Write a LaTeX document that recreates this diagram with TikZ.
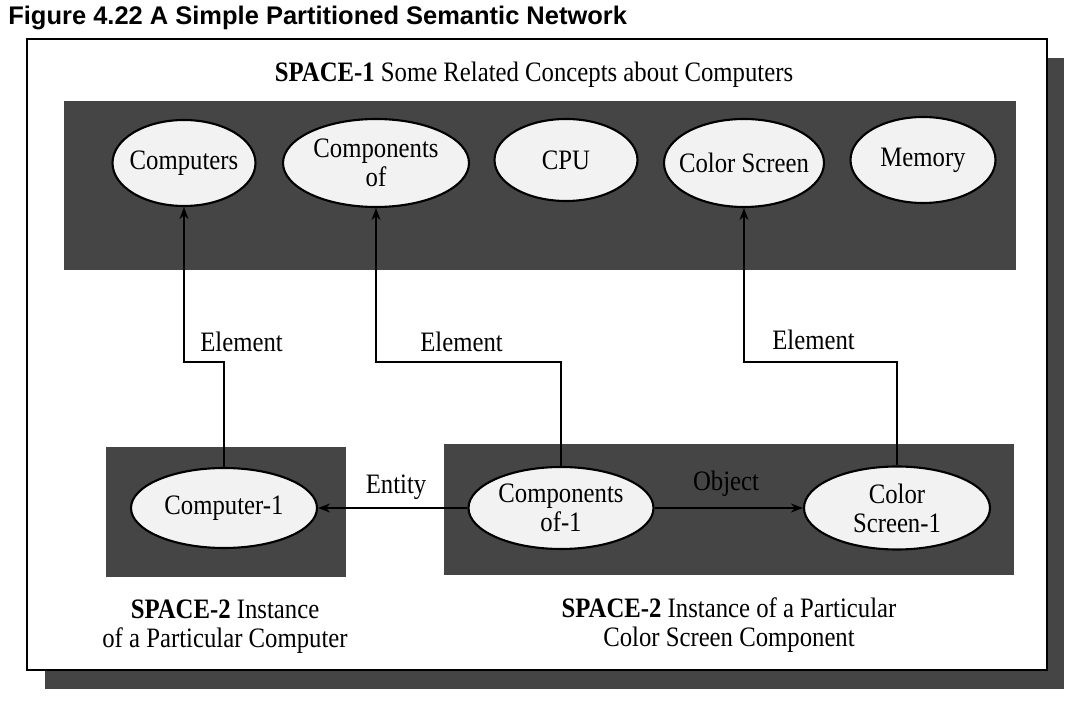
\documentclass[tikz,border=0pt]{standalone}
\usepackage{fontspec}
\setmainfont[FakeStretch=0.88]{Liberation Serif}
\newfontfamily\titlefont{Liberation Sans}
\usetikzlibrary{arrows.meta,shapes.geometric}
\definecolor{band}{gray}{0.27}
\definecolor{oval}{gray}{0.95}
\begin{document}
\begin{tikzpicture}[x=0.02cm,y=-0.02cm,
  concept/.style={ellipse,draw=black,line width=1.2pt,fill=oval,inner xsep=-0.5cm,inner ysep=-0.25cm,align=center,font=\fontsize{16}{16.5}\selectfont},
  sz/.style 2 args={minimum width=#1*0.02cm,minimum height=#2*0.02cm},
  space/.style={fill=band},
  conn/.style={line width=0.9pt,-{Stealth[length=2.4mm,width=1.8mm]}},
  lbl/.style={font=\fontsize{16}{16.5}\selectfont,inner sep=0pt}]
\useasboundingbox (0,0) rectangle (1076,719);
\fill[white] (0,0) rectangle (1076,719);
% title
\node[anchor=west,font=\titlefont\bfseries\fontsize{14.5}{16}\selectfont,inner sep=0pt] (title) at (8,18) {Figure 4.22 A Simple Partitioned Semantic Network};
% frame with shadow
\fill[band] (45,58) rectangle (1064,689);
\draw[fill=white,line width=1pt] (27,39) rectangle (1047,670);
% spaces
\fill[space] (64,101) rectangle (1016,270);
\fill[space] (106,447) rectangle (346,577);
\fill[space] (444,444) rectangle (1014,575);
% space labels
\node[lbl] (s1) at (534,75) {\textbf{SPACE-1} Some Related Concepts about Computers};
\node[lbl,align=center] (s2a) at (225,627) {\textbf{SPACE-2} Instance\\of a Particular Computer};
\node[lbl,align=center] (s2b) at (729,625) {\textbf{SPACE-2} Instance of a Particular\\Color Screen Component};
% concepts
\node[concept,sz={143}{86}] (computers) at (184,163) {Computers};
\node[concept,sz={186}{88}] (compof) at (376,163) {Components\\of};
\node[concept,sz={143}{82}] (cpu) at (566,160) {CPU};
\node[concept,sz={160}{88}] (colscr) at (744,163) {Color Screen};
\node[concept,sz={145}{86}] (memory) at (923,160) {Memory};
% instances
\node[concept,sz={186}{80}] (c1) at (224,508) {Computer-1};
\node[concept,sz={185}{82}] (co1) at (561,508) {Components\\of-1};
\node[concept,sz={186}{83}] (cs1) at (897,508) {Color\\Screen-1};
% connectors
\coordinate (jog) at (0,362);
\draw[conn] (c1.north) -- (c1.north |- jog) -| (computers.south);
\draw[conn] (co1.north) -- (co1.north |- jog) -| (compof.south);
\draw[conn] (cs1.north) -- (cs1.north |- jog) -| (colscr.south);
\draw[conn] (co1.west) -- (c1.east);
\draw[conn] (co1.east) -- (cs1.west);
% connector labels
\node[lbl,anchor=west] (e1) at (200,342) {Element};
\node[lbl,anchor=west] (e2) at (420,342) {Element};
\node[lbl,anchor=west] (e3) at (772,340) {Element};
\node[lbl] (ent) at (396,487) {Entity};
\node[lbl] (obj) at (726,484) {Object};
\end{tikzpicture}
\end{document}
